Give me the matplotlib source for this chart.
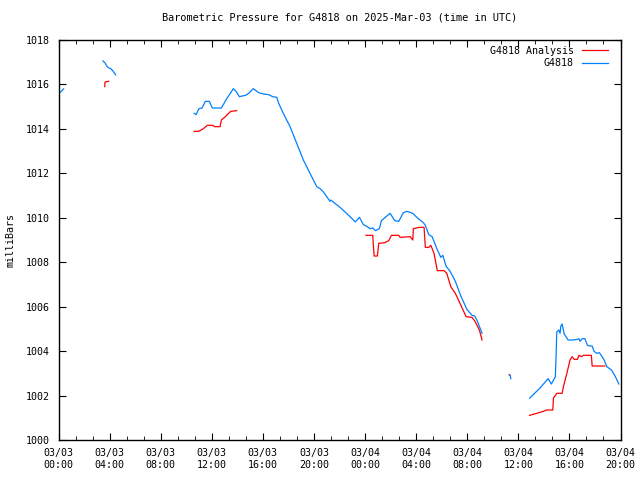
import numpy as np
import matplotlib
matplotlib.use("Agg")
import matplotlib.pyplot as plt
from matplotlib.ticker import MultipleLocator, FuncFormatter
import datetime as dt

nan = np.nan

# hours since 2025-03-03 00:00 UTC, NaN marks a gap in the record
obs_hours = [0.15, 0.4, nan,
             3.48, 3.64, 3.8, 3.95, 4.11, 4.27, 4.48, nan,
             10.61, 10.77, 11.0, 11.24, 11.5, 11.81, 12.04, 12.75, 13.17, 13.69,
             13.9, 14.16, 14.63, 14.89, 15.25, 15.68, 16.04, 16.46, 16.77, 17.09,
             17.24, 17.6, 18.13, 18.65, 19.17, 19.69, 20.22, 20.48, 20.74, 21.26,
             21.31, 22.04, 22.83, 23.24, 23.56, 23.87, 24.18, 24.39, 24.6, 24.81,
             25.12, 25.28, 25.96, 26.33, 26.64, 27.0, 27.27, 27.74, 28.05, 28.57,
             28.72, 28.99, 29.25, 29.62, 29.93, 30.09, 30.34, 30.66, 31.07, 31.5,
             31.97, 32.38, 32.59, 32.8, 33.16, nan,
             35.36, 35.41, nan,
             36.88, 37.7, 38.33, 38.59, 38.9, 38.96, 39.01, 39.17, 39.27, 39.33,
             39.43, 39.59, 39.9, 40.27, 40.63, 40.74, 40.84, 41.0, 41.21, 41.41,
             41.57, 41.78, 41.93, 42.15, 42.35, 42.72, 42.93, 43.29, 43.6, 43.87]
obs_mb = [1015.65, 1015.8, nan,
          1017.06, 1016.97, 1016.81, 1016.74, 1016.7, 1016.6, 1016.43, nan,
          1014.70, 1014.64, 1014.91, 1014.94, 1015.24, 1015.24, 1014.94, 1014.94, 1015.36, 1015.81,
          1015.69, 1015.45, 1015.51, 1015.6, 1015.81, 1015.63, 1015.57, 1015.54, 1015.45, 1015.42,
          1015.15, 1014.70, 1014.10, 1013.35, 1012.60, 1012.0, 1011.40, 1011.31, 1011.16, 1010.74,
          1010.80, 1010.47, 1010.05, 1009.81, 1010.02, 1009.69, 1009.60, 1009.51, 1009.54, 1009.42,
          1009.51, 1009.87, 1010.20, 1009.87, 1009.84, 1010.23, 1010.29, 1010.20, 1010.02, 1009.78,
          1009.66, 1009.24, 1009.15, 1008.61, 1008.22, 1008.31, 1007.83, 1007.59, 1007.14, 1006.48,
          1005.88, 1005.61, 1005.58, 1005.34, 1004.80, nan,
          1002.92, 1002.76, nan,
          1001.88, 1002.34, 1002.76, 1002.52, 1002.85, 1003.84, 1004.86, 1004.95, 1004.80, 1005.13,
          1005.22, 1004.77, 1004.50, 1004.50, 1004.53, 1004.56, 1004.44, 1004.56, 1004.56, 1004.26,
          1004.23, 1004.23, 1003.99, 1003.90, 1003.93, 1003.60, 1003.30, 1003.15, 1002.85, 1002.52]

ana_hours = [3.62, 3.64, 3.93, nan,
             10.61, 10.98, 11.34, 11.65, 12.08, 12.23, 12.65, 12.75, 13.01, 13.27,
             13.48, 13.95, nan,
             24.08, 24.6, 24.71, 24.97, 25.07, 25.54, 25.86, 26.06, 26.64, 26.74,
             27.53, 27.74, 27.78, 28.25, 28.62, 28.72, 28.99, 29.15, 29.4, 29.66,
             30.19, 30.4, 30.71, 31.07, 31.65, 31.91, 32.38, 32.64, 32.95, 33.16, nan,
             35.28, 35.33, nan,
             36.88, 37.45, 37.96, 38.23, 38.7, 38.75, 39.01, 39.43, 39.53, 39.8,
             40.05, 40.21, 40.37, 40.63, 40.74, 40.94, 41.1, 41.72, 41.78, 42.77]
ana_mb = [1015.9, 1016.11, 1016.14, nan,
          1013.89, 1013.89, 1014.01, 1014.16, 1014.16, 1014.10, 1014.10, 1014.40, 1014.52, 1014.67,
          1014.79, 1014.82, nan,
          1009.21, 1009.21, 1008.28, 1008.28, 1008.85, 1008.88, 1008.97, 1009.21, 1009.21, 1009.12,
          1009.15, 1009.0, 1009.51, 1009.57, 1009.57, 1008.67, 1008.67, 1008.76, 1008.40, 1007.62,
          1007.62, 1007.5, 1006.90, 1006.60, 1005.88, 1005.55, 1005.52, 1005.31, 1004.95, 1004.5, nan,
          1002.94, 1002.91, nan,
          1001.11, 1001.2, 1001.29, 1001.35, 1001.35, 1001.89, 1002.10, 1002.10, 1002.40, 1003.0,
          1003.60, 1003.75, 1003.63, 1003.63, 1003.81, 1003.75, 1003.81, 1003.81, 1003.33, 1003.33]

start = dt.datetime(2025, 3, 3, 0, 0)

plt.rcParams["font.family"] = "DejaVu Sans Mono"
plt.rcParams["font.size"] = 7.2

fig = plt.figure(figsize=(6.4, 4.8), dpi=100)
ax = fig.add_axes([58.5 / 640, 40 / 480, 562 / 640, 400 / 480])

ax.plot(ana_hours, ana_mb, color="#ff0000", lw=0.9, label="G4818 Analysis")
ax.plot(obs_hours, obs_mb, color="#0080ff", lw=0.9, label="G4818")

ax.set_xlim(0, 44)
ax.set_ylim(1000, 1018)
ax.xaxis.set_major_locator(MultipleLocator(4))
ax.xaxis.set_minor_locator(MultipleLocator(4 / 3))
ax.yaxis.set_major_locator(MultipleLocator(2))


def hour_label(h, pos):
    t = start + dt.timedelta(hours=h)
    return t.strftime("%m/%d\n%H:%M")


ax.xaxis.set_major_formatter(FuncFormatter(hour_label))
ax.tick_params(which="both", direction="in", top=True, right=True, color="black")
ax.tick_params(which="major", length=5, pad=6)
ax.tick_params(which="minor", length=3)
for s in ax.spines.values():
    s.set_linewidth(1)

ax.set_ylabel("milliBars", labelpad=8)
ax.set_title("Barometric Pressure for G4818 on 2025-Mar-03 (time in UTC)",
             fontsize=7.4, pad=14)

ax.legend(loc="upper right", bbox_to_anchor=(1 - 13 / 562, 1 - 6 / 400),
          markerfirst=False, frameon=False, handlelength=2.6,
          handletextpad=0.8, borderaxespad=0, borderpad=0, labelspacing=0.25)

fig.savefig("out.png", dpi=100)
